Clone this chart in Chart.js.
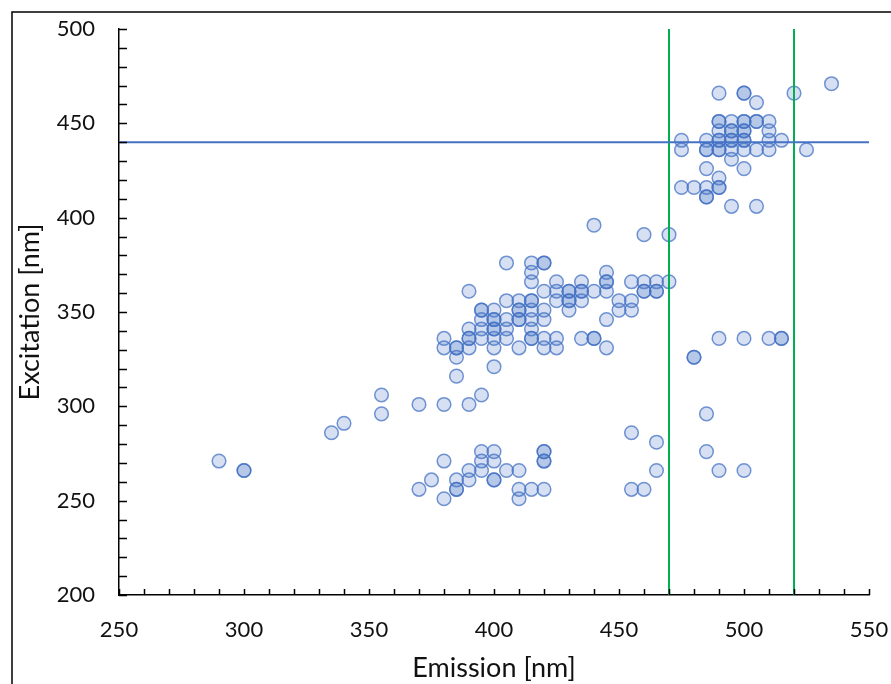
<!DOCTYPE html>
<html>
<head>
<meta charset="utf-8">
<script src="https://cdn.jsdelivr.net/npm/chart.js@4/dist/chart.umd.min.js"></script>
<style>
  html, body { margin: 0; padding: 0; background: #fff; }
  canvas { display: block; }
</style>
</head>
<body>
<canvas id="chart" width="891" height="684"></canvas>
<script>
// emission / excitation pairs (repeats = darker overlapping dots)
const emission = [
  290, 300, 300, 335, 340, 355, 355, 370, 380, 390, 395,
  370, 375, 380, 380, 385, 385, 385, 390, 390, 395, 395, 395, 400, 400, 400, 400, 405, 410, 410, 410, 415, 420, 420, 420, 420, 420,
  385, 385, 385, 385, 380, 380, 390, 390, 390, 390, 390, 395, 395, 395, 395, 395,
  400, 400, 400, 400, 400, 400, 400, 400, 405, 405, 405, 405, 405,
  410, 410, 410, 410, 410, 410, 415, 415, 415, 415, 415, 415, 415, 415, 415, 415,
  420, 420, 420, 420, 420, 420, 420, 425, 425, 425, 425, 425,
  430, 430, 430, 430, 430, 435, 435, 435, 435, 435, 440, 440, 440, 440,
  445, 445, 445, 445, 445, 445, 450, 450, 455, 455, 455, 460, 460, 460, 460, 465, 465, 465, 470, 470,
  455, 465, 465, 455, 460, 485, 485, 490, 500, 480, 480, 490, 500, 510, 515, 515,
  475, 475, 485, 485, 485, 490, 500, 500, 520, 535, 505,
  490, 490, 495, 500, 500, 505, 505, 510,
  490, 495, 495, 500, 500, 510,
  490, 490, 495, 495, 500, 500, 510, 515,
  490, 490, 495, 500, 505, 510, 525,
  495, 485, 500, 490, 475, 480, 485, 490, 490, 485, 485, 495, 505
];
const excitation = [
  271, 266, 266, 286, 291, 306, 296, 301, 301, 301, 306,
  256, 261, 271, 251, 261, 256, 256, 266, 261, 276, 271, 266, 276, 271, 261, 261, 266, 266, 256, 251, 256, 256, 276, 276, 271, 271,
  316, 326, 331, 331, 331, 336, 331, 336, 336, 341, 361, 336, 341, 346, 351, 351,
  321, 331, 336, 341, 341, 346, 346, 351, 336, 341, 346, 356, 376,
  331, 346, 346, 351, 351, 356, 336, 336, 341, 346, 351, 356, 356, 366, 371, 376,
  376, 376, 331, 336, 346, 351, 361, 331, 336, 356, 361, 366,
  351, 356, 356, 361, 361, 336, 356, 361, 361, 366, 336, 336, 361, 396,
  331, 346, 361, 366, 366, 371, 351, 356, 351, 356, 366, 361, 361, 366, 391, 361, 361, 366, 366, 391,
  286, 281, 266, 256, 256, 296, 276, 266, 266, 326, 326, 336, 336, 336, 336, 336,
  441, 436, 441, 436, 436, 466, 466, 466, 466, 471, 461,
  451, 451, 451, 451, 451, 451, 451, 451,
  446, 446, 446, 446, 446, 446,
  441, 441, 441, 441, 441, 441, 441, 441,
  436, 436, 436, 436, 436, 436, 436,
  431, 426, 426, 421, 416, 416, 416, 416, 416, 411, 411, 406, 406
];

// reference lines
const excitationLine = 440;
const emissionLines = [470, 520];

// axes
const xTickLabels = [250, 300, 350, 400, 450, 500, 550];
const yTickLabels = [200, 250, 300, 350, 400, 450, 500];
const minorStep = 10;

const FONT = 'Lato, "Open Sans", sans-serif';
const BLUE = '#4472C4';
const GREEN = '#00B050';

const points = emission.map((x, i) => ({ x, y: excitation[i] }));
const xMin = xTickLabels[0], xMax = xTickLabels[xTickLabels.length - 1];
const yMin = yTickLabels[0], yMax = yTickLabels[yTickLabels.length - 1];

// minor tick marks drawn inside the plot + outer frame
const innerTicks = {
    id: 'innerTicks',
    afterDraw(chart) {
        const { ctx, chartArea: a, scales: { x, y } } = chart;
        ctx.save();
        ctx.strokeStyle = '#000';
        ctx.lineWidth = 1.5;
        ctx.beginPath();
        for (let v = xMin; v <= xMax; v += minorStep) {
            const px = Math.round(x.getPixelForValue(v)) + 0.5;
            ctx.moveTo(px, a.bottom);
            ctx.lineTo(px, a.bottom - 6);
        }
        for (let v = yMin; v <= yMax; v += minorStep) {
            const py = Math.round(y.getPixelForValue(v)) + 0.5;
            ctx.moveTo(a.left, py);
            ctx.lineTo(a.left + 8, py);
        }
        ctx.stroke();
        // chart frame (left + top edges are what shows in the crop)
        ctx.beginPath();
        ctx.moveTo(12, chart.height);
        ctx.lineTo(12, 12);
        ctx.lineTo(chart.width, 12);
        ctx.stroke();
        ctx.restore();
    }
};

function lineSet(data, color) {
    return {
        type: 'line',
        data,
        borderColor: color,
        borderWidth: 2,
        pointRadius: 0,
        fill: false,
        order: 0
    };
}

new Chart(document.getElementById('chart'), {
    type: 'scatter',
    data: {
        datasets: [
            {
                data: points,
                backgroundColor: 'rgba(68,114,196,0.22)',
                borderColor: 'rgba(68,114,196,0.75)',
                borderWidth: 1.5,
                pointRadius: 6.8,
                order: 1
            },
            lineSet([{ x: xMin, y: excitationLine }, { x: xMax, y: excitationLine }], BLUE),
            ...emissionLines.map(v => lineSet([{ x: v, y: yMin }, { x: v, y: yMax }], GREEN))
        ]
    },
    options: {
        responsive: false,
        animation: false,
        layout: { autoPadding: false, padding: { left: 0, top: 29, right: 22, bottom: 0 } },
        plugins: { legend: { display: false }, tooltip: { enabled: false } },
        scales: {
            x: {
                type: 'linear',
                min: xMin,
                max: xMax,
                afterBuildTicks: s => { s.ticks = xTickLabels.map(v => ({ value: v })); },
                afterFit: s => { s.height = 89; s.paddingLeft = 0; s.paddingRight = 0; },
                grid: { display: false, drawTicks: false },
                border: { display: true, color: '#000', width: 1.5 },
                ticks: { color: '#111', padding: 22, maxRotation: 0, font: { family: FONT, size: 22 } },
                title: {
                    display: true, text: 'Emission [nm]', color: '#111',
                    padding: { top: 0, bottom: 0 }, font: { family: FONT, size: 27 }
                }
            },
            y: {
                type: 'linear',
                min: yMin,
                max: yMax,
                afterBuildTicks: s => { s.ticks = yTickLabels.map(v => ({ value: v })); },
                afterFit: s => { s.width = 119; s.paddingTop = 0; s.paddingBottom = 0; },
                grid: { display: false, drawTicks: false },
                border: { display: true, color: '#000', width: 1.5 },
                ticks: { color: '#111', padding: 24, font: { family: FONT, size: 22 } },
                title: {
                    display: true, text: 'Excitation [nm]', color: '#111',
                    padding: { top: 14, bottom: 0 }, font: { family: FONT, size: 27 }
                }
            }
        }
    },
    plugins: [innerTicks]
});
</script>
</body>
</html>
